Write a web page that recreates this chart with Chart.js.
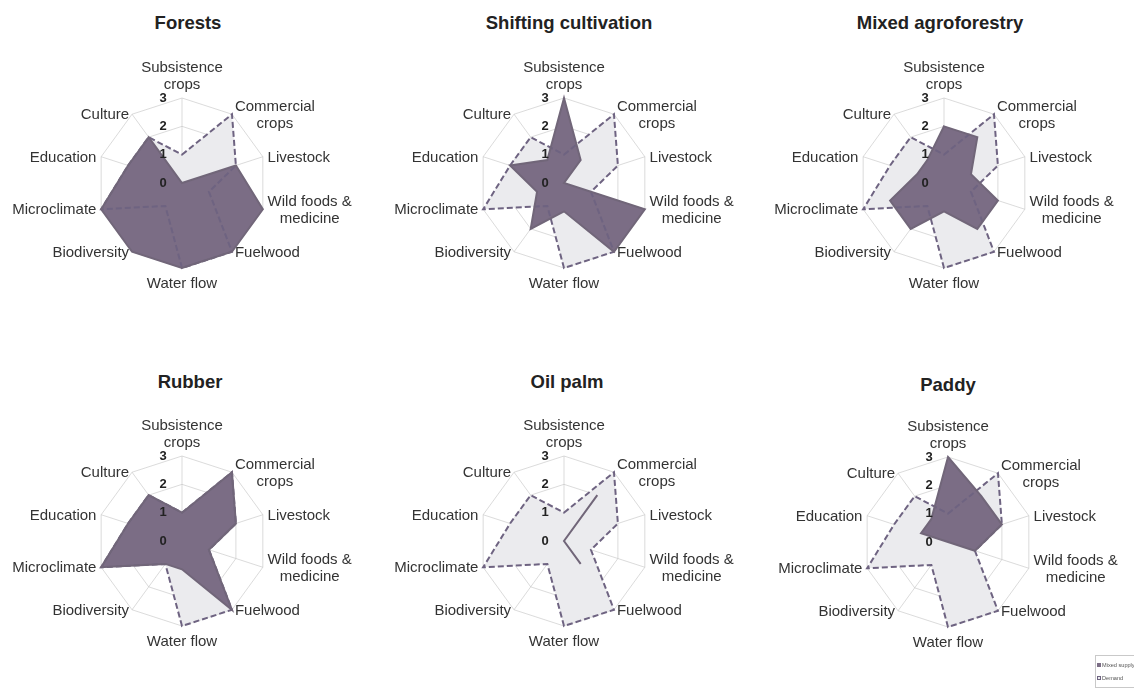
<!DOCTYPE html>
<html>
<head>
<meta charset="utf-8">
<script src="https://cdn.jsdelivr.net/npm/chart.js@4.4.1/dist/chart.umd.min.js"></script>
<style>
    body { margin: 0; background: #fff; font-family: "Liberation Sans", Arial, sans-serif; }
    #page { position: relative; width: 1134px; height: 697px; overflow: hidden; }
    .title { position: absolute; font-weight: bold; font-size: 18.5px; color: #222; transform: translate(-50%, -50%); white-space: nowrap; }
    canvas { position: absolute; }
    .legend { position: absolute; left: 1095px; top: 655px; width: 50px; height: 33px; border: 1px solid #c9c9c9; font-size: 5.6px; color: #555; box-sizing: border-box; padding: 2px 1px; line-height: 14px; white-space: nowrap; }
    .legend span { display: inline-block; width: 4px; height: 4px; margin-right: 1px; box-sizing: border-box; }
</style>
</head>
<body>
<div id="page"></div>
<script>
// axis labels (clockwise from top)
const services = [['Subsistence', 'crops'], ['Commercial', 'crops'], 'Livestock', ['Wild foods &', 'medicine'],
    'Fuelwood', 'Water flow', 'Biodiversity', 'Microclimate', 'Education', 'Culture'];
const tickValues = [0, 1, 2, 3];
const seriesNames = ['Mixed supply', 'Demand'];

const demand = [1, 3, 2, 1, 3, 3, 1, 3, 2, 2];
const forestsSupply = [0, 0, 2, 3, 3, 3, 3, 3, 2, 2];
const shiftingSupply = [3, 1, 0, 3, 3, 1, 2, 1, 2, 1];
const agroforestrySupply = [2, 2, 1, 2, 2, 1, 2, 2, 1, 1];
const rubberSupply = [1, 3, 2, 1, 3, 1, 1, 3, 2, 2];
const oilPalmSupply = [0, 2, 0, 0, 1, 0, 0, 0, 0, 0];
const paddySupply = [3, 2, 2, 1, 0, 0, 0, 0, 1, 1];

const supplyColor = '#7b6d85';
const demandFill = '#ebebee';
const demandLine = '#6e6381';
const radius = 85;
const labelFont = '15px "Liberation Sans", Arial, sans-serif';

const panels = [
    {title: 'Forests', supply: forestsSupply, cx: 182, cy: 183, tx: 188, ty: 23},
    {title: 'Shifting cultivation', supply: shiftingSupply, cx: 564, cy: 183, tx: 569, ty: 23},
    {title: 'Mixed agroforestry', supply: agroforestrySupply, cx: 944, cy: 183, tx: 940, ty: 23},
    {title: 'Rubber', supply: rubberSupply, cx: 182, cy: 541, tx: 190, ty: 382},
    {title: 'Oil palm', supply: oilPalmSupply, cx: 564, cy: 541, tx: 567, ty: 382},
    {title: 'Paddy', supply: paddySupply, cx: 948, cy: 542, tx: 948, ty: 385}
];

// tick numbers sit left of the vertical axis, like the original
const tickLabels = {
    id: 'tickLabels',
    afterDraw(chart) {
        const r = chart.scales.r;
        const ctx = chart.ctx;
        ctx.save();
        ctx.font = 'bold 13px "Liberation Sans", Arial, sans-serif';
        ctx.fillStyle = '#222';
        ctx.textAlign = 'center';
        ctx.textBaseline = 'middle';
        tickValues.forEach(function (v) {
            ctx.fillText(String(v), r.xCenter - 19, r.yCenter - r.getDistanceFromCenterForValue(v));
        });
        ctx.restore();
    }
};

// category labels centred on the spoke ends, lines centred
const axisLabels = {
    id: 'axisLabels',
    afterDraw(chart) {
        const r = chart.scales.r;
        const ctx = chart.ctx;
        const lh = 17;
        ctx.save();
        ctx.font = labelFont;
        ctx.fillStyle = '#333';
        ctx.textAlign = 'center';
        ctx.textBaseline = 'middle';
        services.forEach(function (label, i) {
            const lines = [].concat(label);
            const angle = Math.round(i * 360 / services.length);
            const pt = r.getPointPosition(i, r.drawingArea);
            const out = r.getPointPosition(i, r.drawingArea + 5);
            const h = lines.length * lh;
            const w = Math.max.apply(null, lines.map(function (l) { return ctx.measureText(l).width; }));
            let x = out.x;
            let top = pt.y - h / 2 + 1;
            if (angle === 0) {
                x = pt.x;
                top = pt.y - 5 - h;
            } else if (angle === 180) {
                x = pt.x;
                top = pt.y + 7;
            } else if (angle < 180) {
                x = out.x + w / 2;
            } else {
                x = out.x - w / 2;
            }
            lines.forEach(function (line, k) {
                ctx.fillText(line, x, top + lh * (k + 0.5));
            });
        });
        ctx.restore();
    }
};

function placeChart(chart, cx, cy) {
    let pad = 0;
    for (let i = 0; i < 10; i++) {
        const extra = chart.scales.r.drawingArea - radius;
        if (Math.abs(extra) < 0.3) break;
        pad = Math.max(0, pad + extra);
        chart.options.layout.padding = pad;
        chart.update('none');
    }
    const r = chart.scales.r;
    chart.canvas.style.left = (cx - r.xCenter) + 'px';
    chart.canvas.style.top = (cy - r.yCenter) + 'px';
}

const page = document.getElementById('page');

panels.forEach(function (p) {
    const title = document.createElement('div');
    title.className = 'title';
    title.textContent = p.title;
    title.style.left = p.tx + 'px';
    title.style.top = p.ty + 'px';
    page.appendChild(title);

    const canvas = document.createElement('canvas');
    canvas.width = 420;
    canvas.height = 330;
    page.appendChild(canvas);

    const chart = new Chart(canvas, {
        type: 'radar',
        data: {
            labels: services,
            datasets: [{
                label: seriesNames[0],
                data: p.supply,
                backgroundColor: supplyColor,
                borderColor: '#716679',
                borderWidth: 2,
                fill: true,
                pointRadius: 0
            }, {
                label: seriesNames[1],
                data: demand,
                backgroundColor: demandFill,
                borderColor: demandLine,
                borderWidth: 2,
                borderDash: [6, 3],
                fill: true,
                pointRadius: 0
            }]
        },
        options: {
            responsive: false,
            animation: false,
            layout: {padding: 0},
            plugins: {
                legend: {display: false},
                tooltip: {enabled: false},
                filler: {drawTime: 'beforeDatasetsDraw'}
            },
            scales: {
                r: {
                    min: 0,
                    max: 3,
                    z: 1,
                    ticks: {display: false, stepSize: 1},
                    grid: {color: 'rgba(190,190,190,0.55)', lineWidth: 1},
                    angleLines: {color: 'rgba(190,190,190,0.55)', lineWidth: 1},
                    pointLabels: {display: false}
                }
            }
        },
        plugins: [tickLabels, axisLabels]
    });

    placeChart(chart, p.cx, p.cy);
});

// small legend box in the corner
const legend = document.createElement('div');
legend.className = 'legend';
legend.innerHTML =
    '<div><span style="background:' + supplyColor + '"></span>' + seriesNames[0] + '</div>' +
    '<div style="margin-top:-1px"><span style="background:' + demandFill + ';border:1px dashed ' + demandLine + '"></span>' + seriesNames[1] + '</div>';
page.appendChild(legend);
</script>
</body>
</html>
